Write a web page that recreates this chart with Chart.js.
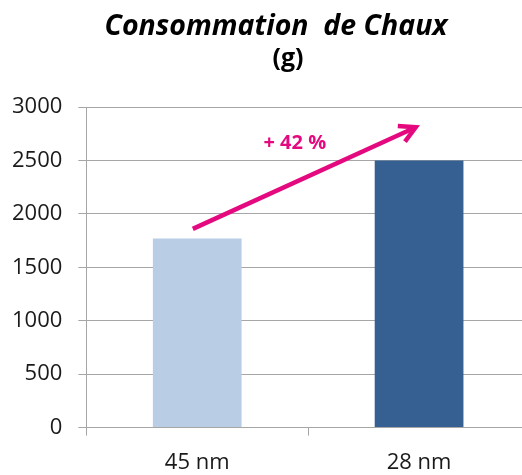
<!DOCTYPE html>
<html><head><meta charset="utf-8">
<script src="https://cdn.jsdelivr.net/npm/chart.js@4.4.1/dist/chart.umd.min.js"></script>
<style>
html,body{margin:0;padding:0;background:#fff;overflow:hidden;width:522px;height:475px;}
#wrap{position:absolute;left:-4px;top:0;width:534px;height:490px;}
.t{position:absolute;font-family:"Open Sans",sans-serif;font-weight:bold;color:#000;white-space:pre;text-align:center;}
#t1{left:76px;width:400px;top:5px;font-size:28.5px;font-style:italic;}
#t2{left:258px;width:60px;top:39px;font-size:25px;}
</style></head>
<body>
<div id="wrap"><canvas id="c"></canvas></div>
<div class="t" id="t1">Consommation  de Chaux</div>
<div class="t" id="t2">(g)</div>
<script>
const categories = ["45 nm", "28 nm"];
const values = [1770, 2500];
const barColors = ["#B9CDE5", "#376092"];
const yTicks = [0, 500, 1000, 1500, 2000, 2500, 3000];
// arrow annotation in data units: [categoryIndex, value]
const arrowStart = [-0.02, 1860];
const arrowEnd = [0.985, 2810];
const arrowLabel = "+ 42 %";
const labelPos = [0.44, 2665];

const arrowPlugin = {
  id: 'arrow',
  afterDatasetsDraw(chart) {
    const {ctx, scales: {x, y}} = chart;
    const x1 = x.getPixelForValue(arrowStart[0]), y1 = y.getPixelForValue(arrowStart[1]);
    const x2 = x.getPixelForValue(arrowEnd[0]), y2 = y.getPixelForValue(arrowEnd[1]);
    const col = "#E5097F";
    ctx.save();
    ctx.strokeStyle = col; ctx.lineWidth = 4.5; ctx.lineCap = "butt"; ctx.lineJoin = "miter";
    const ang = Math.atan2(y2 - y1, x2 - x1);
    ctx.beginPath(); ctx.moveTo(x1, y1); ctx.lineTo(x2 - 3*Math.cos(ang), y2 - 3*Math.sin(ang)); ctx.stroke();
    const L = 18, a = 0.5;
    ctx.beginPath();
    ctx.moveTo(x2 - L*Math.cos(ang - a), y2 - L*Math.sin(ang - a));
    ctx.lineTo(x2, y2);
    ctx.lineTo(x2 - L*Math.cos(ang + a), y2 - L*Math.sin(ang + a));
    ctx.stroke();
    ctx.fillStyle = col;
    ctx.font = 'bold 20px "Open Sans", sans-serif';
    ctx.textAlign = "center"; ctx.textBaseline = "middle";
    ctx.fillText(arrowLabel, x.getPixelForValue(labelPos[0]), y.getPixelForValue(labelPos[1]));
    ctx.restore();
  }
};

new Chart(document.getElementById('c'), {
  type: 'bar',
  data: {
    labels: categories,
    datasets: [{ data: values, backgroundColor: barColors, borderWidth: 0,
      categoryPercentage: 1.0, barPercentage: 0.4 }]
  },
  options: {
    responsive: true, maintainAspectRatio: false, animation: false,
    layout: { padding: { top: 107, right: 0, left: 0, bottom: 0 } },
    plugins: { legend: { display: false }, tooltip: { enabled: false } },
    scales: {
      x: {
        offset: true,
        grid: { display: true, offset: true, drawOnChartArea: false, color: "#A6A6A6", tickLength: 8 },
        border: { color: "#A6A6A6" },
        ticks: { color: "#1a1a1a", font: { family: "Open Sans", size: 22 }, padding: 14 }
      },
      y: {
        min: 0, max: 3000,
        afterBuildTicks(ax) { ax.ticks = yTicks.map(v => ({ value: v })); },
        grid: { color: "#A6A6A6", tickLength: 8 },
        border: { color: "#A6A6A6" },
        ticks: { color: "#1a1a1a", font: { family: "Open Sans", size: 22 }, padding: 16,
          callback: v => String(v) }
      }
    }
  },
  plugins: [arrowPlugin]
});
</script>
</body></html>
